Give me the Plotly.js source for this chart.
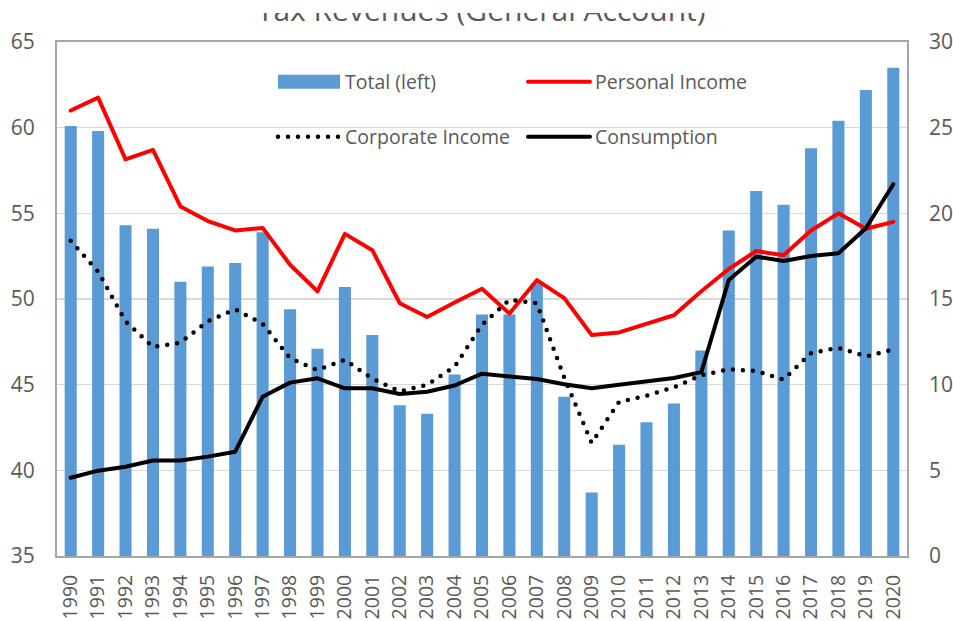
<!DOCTYPE html>
<html><head><meta charset="utf-8">
<script src="https://cdn.plot.ly/plotly-3.0.1.min.js"></script>
<style>
html,body{margin:0;padding:0;background:#fff;}
#chart{width:953px;height:621px;}
#mask{position:absolute;left:0;top:0;width:953px;height:13px;background:#fff;}
.scatterlayer .js-line, .legendlines path { stroke-linecap: round; stroke-linejoin: round; }
g.legend .legendpoints path { transform: translate(36px,0px) scale(5.17,1.17) !important; }
</style></head><body>
<div id="chart"></div>
<div id="mask"></div>
<script>
const years = ['1990','1991','1992','1993','1994','1995','1996','1997','1998','1999','2000','2001','2002','2003','2004','2005','2006','2007','2008','2009','2010','2011','2012','2013','2014','2015','2016','2017','2018','2019','2020'];
const totalLeft = [60.1, 59.8, 54.3, 54.1, 51.0, 51.9, 52.1, 53.9, 49.4, 47.1, 50.7, 47.9, 43.8, 43.3, 45.6, 49.1, 49.1, 50.9, 44.3, 38.7, 41.5, 42.8, 43.9, 47.0, 54.0, 56.3, 55.5, 58.8, 60.4, 62.2, 63.5];
const personalIncome = [26.0, 26.75, 23.15, 23.7, 20.4, 19.55, 19.0, 19.15, 17.0, 15.45, 18.8, 17.85, 14.75, 13.95, 14.8, 15.6, 14.15, 16.1, 15.05, 12.9, 13.05, 13.55, 14.05, 15.45, 16.75, 17.8, 17.55, 19.0, 20.0, 19.1, 19.5];
const corporateIncome = [18.4, 16.6, 13.7, 12.2, 12.45, 13.7, 14.4, 13.55, 11.55, 10.85, 11.45, 10.35, 9.6, 10.0, 11.05, 13.5, 14.95, 14.75, 10.4, 6.6, 9.0, 9.35, 9.85, 10.55, 10.9, 10.8, 10.3, 11.85, 12.15, 11.65, 12.05];
const consumption = [4.57, 4.98, 5.21, 5.57, 5.57, 5.8, 6.09, 9.3, 10.12, 10.37, 9.79, 9.79, 9.46, 9.59, 9.95, 10.64, 10.47, 10.33, 10.02, 9.79, 10.0, 10.22, 10.39, 10.73, 16.11, 17.47, 17.22, 17.51, 17.67, 19.13, 21.7];
const leftTicks = [35, 40, 45, 50, 55, 60, 65];
const rightTicks = [0, 5, 10, 15, 20, 25, 30];

const FONT = 'Open Sans, Noto Sans, sans-serif';
const GREY = '#595959';

const traces = [
  {type:'bar', name:'Total (left)', x:years, y:totalLeft, yaxis:'y', width:0.44,
   marker:{color:'#5b9bd5'}, legend:'legend'},
  {type:'scatter', mode:'lines', name:'Personal Income', x:years, y:personalIncome, yaxis:'y2',
   line:{color:'#ff0000', width:4}, legend:'legend'},
  {type:'scatter', mode:'lines', name:'Corporate Income', x:years, y:corporateIncome, yaxis:'y2',
   line:{color:'#000000', width:4.5, dash:'0px,10px'}, legend:'legend2'},
  {type:'scatter', mode:'lines', name:'Consumption', x:years, y:consumption, yaxis:'y2',
   line:{color:'#000000', width:4}, legend:'legend2'}
];

const legendBase = {
  orientation:'h', xref:'paper', yref:'paper', xanchor:'left', yanchor:'middle',
  x:0.2541, itemwidth:62, entrywidth:173, entrywidthmode:'pixels',
  bgcolor:'rgba(0,0,0,0)', borderwidth:0,
  font:{family:FONT, size:19.5, color:GREY}
};

const layout = {
  width:953, height:621,
  margin:{l:57, r:46, t:42, b:65, pad:0},
  paper_bgcolor:'#ffffff', plot_bgcolor:'#ffffff',
  font:{family:FONT, color:GREY},
  title:{text:'Tax Revenues (General Account)', font:{family:FONT, size:30, color:GREY},
         x:0.505, xanchor:'center', xref:'container', y:0.983, yanchor:'middle', yref:'container'},
  bargap:0.56,
  showlegend:true,
  legend:Object.assign({}, legendBase, {y:0.922}),
  legend2:Object.assign({}, legendBase, {y:0.815}),
  xaxis:{type:'category', range:[-0.5, 30.5], tickangle:-90, showgrid:false,
         showline:true, mirror:true, linecolor:'#a6a6a6', linewidth:2, ticks:'',
         ticklabelstandoff:9, tickfont:{family:FONT, size:19.5, color:GREY}},
  yaxis:{range:[35, 65], tickvals:leftTicks, showgrid:true, gridcolor:'#d9d9d9', gridwidth:1.5,
         showline:true, mirror:true, linecolor:'#a6a6a6', linewidth:2, ticks:'', zeroline:false,
         ticklabelstandoff:16, tickfont:{family:FONT, size:21, color:GREY}},
  yaxis2:{range:[0, 30], tickvals:rightTicks, overlaying:'y', side:'right', showgrid:false,
          showline:false, ticks:'', zeroline:false, ticklabelstandoff:21,
          tickfont:{family:FONT, size:21, color:GREY}}
};

Plotly.newPlot('chart', traces, layout, {displayModeBar:false, staticPlot:true});
</script>
</body></html>
